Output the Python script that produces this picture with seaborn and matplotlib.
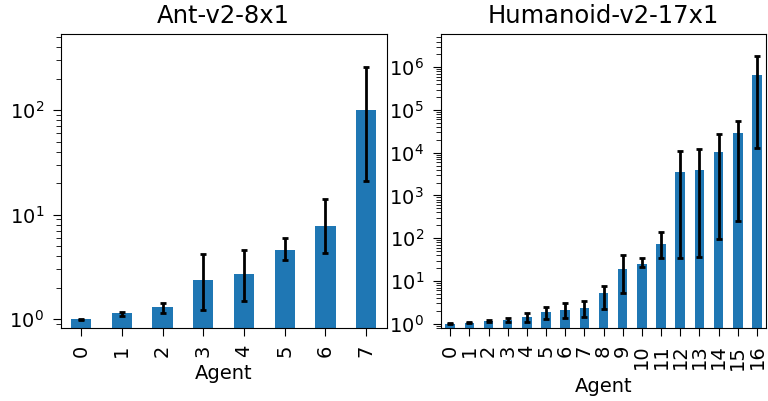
import numpy as np
import pandas as pd
import matplotlib
matplotlib.use("Agg")
import matplotlib.pyplot as plt
import seaborn as sns

plt.rcParams['font.family'] = ['DejaVu Sans']
plt.rcParams['font.size'] = 14

# Ant-v2-8x1
ant_agents = [str(i) for i in range(8)]
ant_mean = [0.99, 1.13, 1.29, 2.35, 2.68, 4.56, 7.74, 101.6]
ant_low = [0.97, 1.07, 1.15, 1.21, 1.49, 3.68, 4.26, 20.9]
ant_high = [1.01, 1.18, 1.41, 4.24, 4.59, 6.03, 14.1, 257]

# Humanoid-v2-17x1
hum_agents = [str(i) for i in range(17)]
hum_mean = [0.99, 1.04, 1.16, 1.22, 1.43, 1.87, 2.08, 2.32, 5.2, 18.8, 24.6,
            72, 3620, 4040, 10600, 29400, 662000]
hum_low = [0.97, 1.01, 1.10, 1.08, 1.08, 1.29, 1.36, 1.46, 2.2, 5.28, 20.6,
           34, 34, 37, 96, 248, 13100]
hum_high = [1.01, 1.07, 1.22, 1.36, 1.75, 2.49, 3.09, 3.44, 7.57, 41.4, 34,
            143, 10800, 12500, 27900, 55000, 1860000]

panels = [
    ("Ant-v2-8x1", ant_agents, ant_mean, ant_low, ant_high, (0.82, 537)),
    ("Humanoid-v2-17x1", hum_agents, hum_mean, hum_low, hum_high, (0.79, 5.97e6)),
]

fig, axes = plt.subplots(1, 2, figsize=(7.68, 4.01), dpi=100)
fig.subplots_adjust(left=0.079, right=0.998, bottom=0.182, top=0.915, wspace=0.166)

for ax, (title, agents, mean, low, high, ylim) in zip(axes, panels):
    df = pd.DataFrame({"Agent": agents, "value": mean})
    sns.barplot(data=df, x="Agent", y="value", color="#1f77b4", saturation=1,
                width=0.5, errorbar=None, ax=ax)
    mean = np.array(mean)
    yerr = [mean - np.array(low), np.array(high) - mean]
    ax.errorbar(np.arange(len(agents)), mean, yerr=yerr, fmt='none',
                ecolor='black', elinewidth=2, capsize=2, capthick=2)
    ax.set_yscale('log')
    ax.set_ylim(*ylim)
    ax.set_xlim(-0.5, len(agents) - 0.5)
    ax.set_title(title, fontsize=17.5, pad=8)
    ax.set_ylabel("")
    ax.set_xlabel("Agent", fontsize=14, labelpad=5)
    ax.tick_params(axis='both', which='major', labelsize=14, length=6, pad=6)
    ax.tick_params(axis='both', which='minor', length=3.5)
    ax.tick_params(axis='x', labelrotation=90)

fig.savefig("out.png", dpi=100)
